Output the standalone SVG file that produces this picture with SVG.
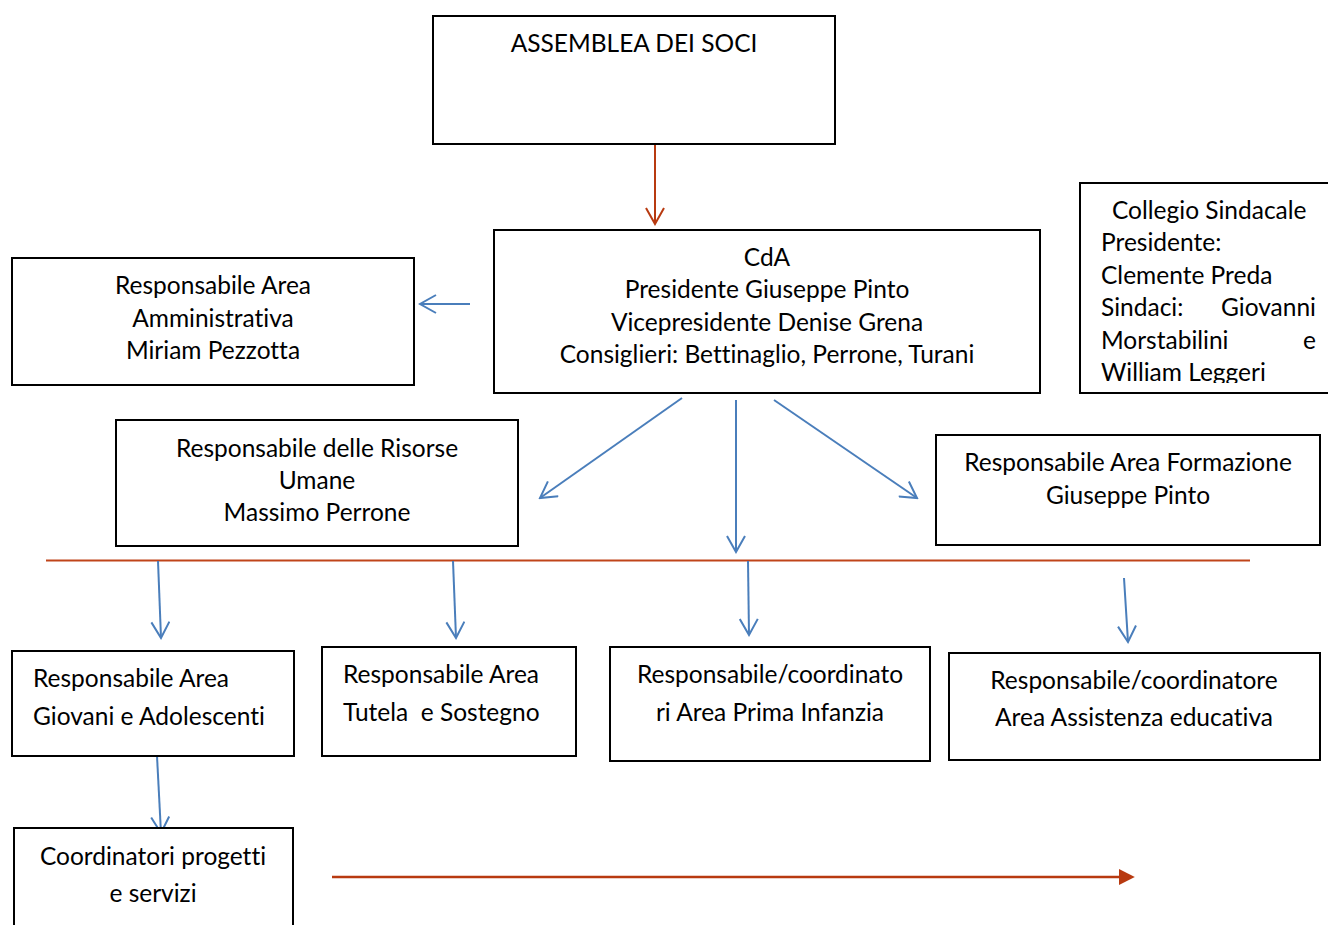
<svg xmlns="http://www.w3.org/2000/svg" width="1328" height="925" viewBox="0 0 1328 925">
<defs>
<style>
.box{fill:#fff;stroke:#000;stroke-width:2}
text{font-family:Lato,"Liberation Sans",sans-serif;font-size:24.5px;fill:#000;font-variant-ligatures:none}
.c{text-anchor:middle}
.blue{stroke:#4a7ebb;stroke-width:2;fill:none}
.red{stroke:#b83a10;stroke-width:2;fill:none}
</style>
<marker id="vb" viewBox="0 0 20 20" refX="18" refY="10" markerWidth="20" markerHeight="20" markerUnits="userSpaceOnUse" orient="auto">
<path d="M2,1 L18,10 L2,19" fill="none" stroke="#4a7ebb" stroke-width="2"/>
</marker>
<marker id="vr" viewBox="0 0 20 20" refX="18" refY="10" markerWidth="20" markerHeight="20" markerUnits="userSpaceOnUse" orient="auto">
<path d="M2,1 L18,10 L2,19" fill="none" stroke="#b83a10" stroke-width="2"/>
</marker>
<marker id="tr" viewBox="0 0 10 10" refX="2" refY="5" markerWidth="16" markerHeight="16" markerUnits="userSpaceOnUse" orient="auto">
<path d="M0,0 L10,5 L0,10 Z" fill="#b83a10"/>
</marker>
<clipPath id="clipCol"><rect x="1080" y="183" width="248" height="200"/></clipPath>
</defs>
<rect width="1328" height="925" fill="#fff"/>

<g id="connectors">
<line class="red" x1="655" y1="145" x2="655" y2="224" marker-end="url(#vr)"/>
<line class="blue" x1="470" y1="304" x2="420" y2="304" marker-end="url(#vb)"/>
<line class="blue" x1="682" y1="398" x2="540" y2="498" marker-end="url(#vb)"/>
<line class="blue" x1="736" y1="400" x2="736" y2="552" marker-end="url(#vb)"/>
<line class="blue" x1="774" y1="400" x2="917" y2="498" marker-end="url(#vb)"/>
<line x1="46" y1="560.5" x2="1250" y2="560.5" stroke="#c0441a" stroke-width="2"/>
<line class="blue" x1="158" y1="561" x2="161" y2="638" marker-end="url(#vb)"/>
<line class="blue" x1="453" y1="561" x2="456" y2="638" marker-end="url(#vb)"/>
<line class="blue" x1="748" y1="561" x2="749" y2="635" marker-end="url(#vb)"/>
<line class="blue" x1="1124" y1="578" x2="1128" y2="642" marker-end="url(#vb)"/>
<line class="blue" x1="157" y1="756" x2="161" y2="833" marker-end="url(#vb)"/>
<line x1="332" y1="877" x2="1122" y2="877" stroke="#b83a10" stroke-width="2.5" marker-end="url(#tr)"/>
</g>

<g id="assemblea">
<rect class="box" x="433" y="16" width="402" height="128"/>
<text class="c" x="634" y="52">ASSEMBLEA DEI SOCI</text>
</g>

<g id="cda">
<rect class="box" x="494" y="230" width="546" height="163"/>
<text class="c" x="767" y="266">CdA</text>
<text class="c" x="767" y="298">Presidente Giuseppe Pinto</text>
<text class="c" x="767" y="331">Vicepresidente Denise Grena</text>
<text class="c" x="767" y="363">Consiglieri: Bettinaglio, Perrone, Turani</text>
</g>

<g id="collegio">
<rect class="box" x="1080" y="183" width="260" height="210"/>
<g clip-path="url(#clipCol)">
<text x="1112" y="219">Collegio Sindacale</text>
<text x="1101" y="251">Presidente:</text>
<text x="1101" y="284">Clemente Preda</text>
<text x="1101" y="316">Sindaci:</text>
<text x="1316" y="316" text-anchor="end">Giovanni</text>
<text x="1101" y="349">Morstabilini</text>
<text x="1316" y="349" text-anchor="end">e</text>
<text x="1101" y="381">William Leggeri</text>
</g>
</g>

<g id="amministrativa">
<rect class="box" x="12" y="258" width="402" height="127"/>
<text class="c" x="213" y="294">Responsabile Area</text>
<text class="c" x="213" y="327">Amministrativa</text>
<text class="c" x="213" y="359">Miriam Pezzotta</text>
</g>

<g id="risorse">
<rect class="box" x="116" y="420" width="402" height="126"/>
<text class="c" x="317" y="457">Responsabile delle Risorse</text>
<text class="c" x="317" y="489">Umane</text>
<text class="c" x="317" y="521">Massimo Perrone</text>
</g>

<g id="formazione">
<rect class="box" x="936" y="435" width="384" height="110"/>
<text class="c" x="1128" y="471">Responsabile Area Formazione</text>
<text class="c" x="1128" y="504">Giuseppe Pinto</text>
</g>

<g id="giovani">
<rect class="box" x="12" y="651" width="282" height="105"/>
<text x="33" y="687">Responsabile Area</text>
<text x="33" y="725">Giovani e Adolescenti</text>
</g>

<g id="tutela">
<rect class="box" x="322" y="647" width="254" height="109"/>
<text x="343" y="683">Responsabile Area</text>
<text x="343" y="721" xml:space="preserve">Tutela  e Sostegno</text>
</g>

<g id="infanzia">
<rect class="box" x="610" y="647" width="320" height="114"/>
<text class="c" x="770" y="683">Responsabile/coordinato</text>
<text class="c" x="770" y="721">ri Area Prima Infanzia</text>
</g>

<g id="assistenza">
<rect class="box" x="949" y="653" width="371" height="107"/>
<text class="c" x="1134" y="689">Responsabile/coordinatore</text>
<text class="c" x="1134" y="726">Area Assistenza educativa</text>
</g>

<g id="coordinatori">
<rect class="box" x="14" y="828" width="279" height="110"/>
<text class="c" x="153" y="865">Coordinatori progetti</text>
<text class="c" x="153" y="902">e servizi</text>
</g>
</svg>
